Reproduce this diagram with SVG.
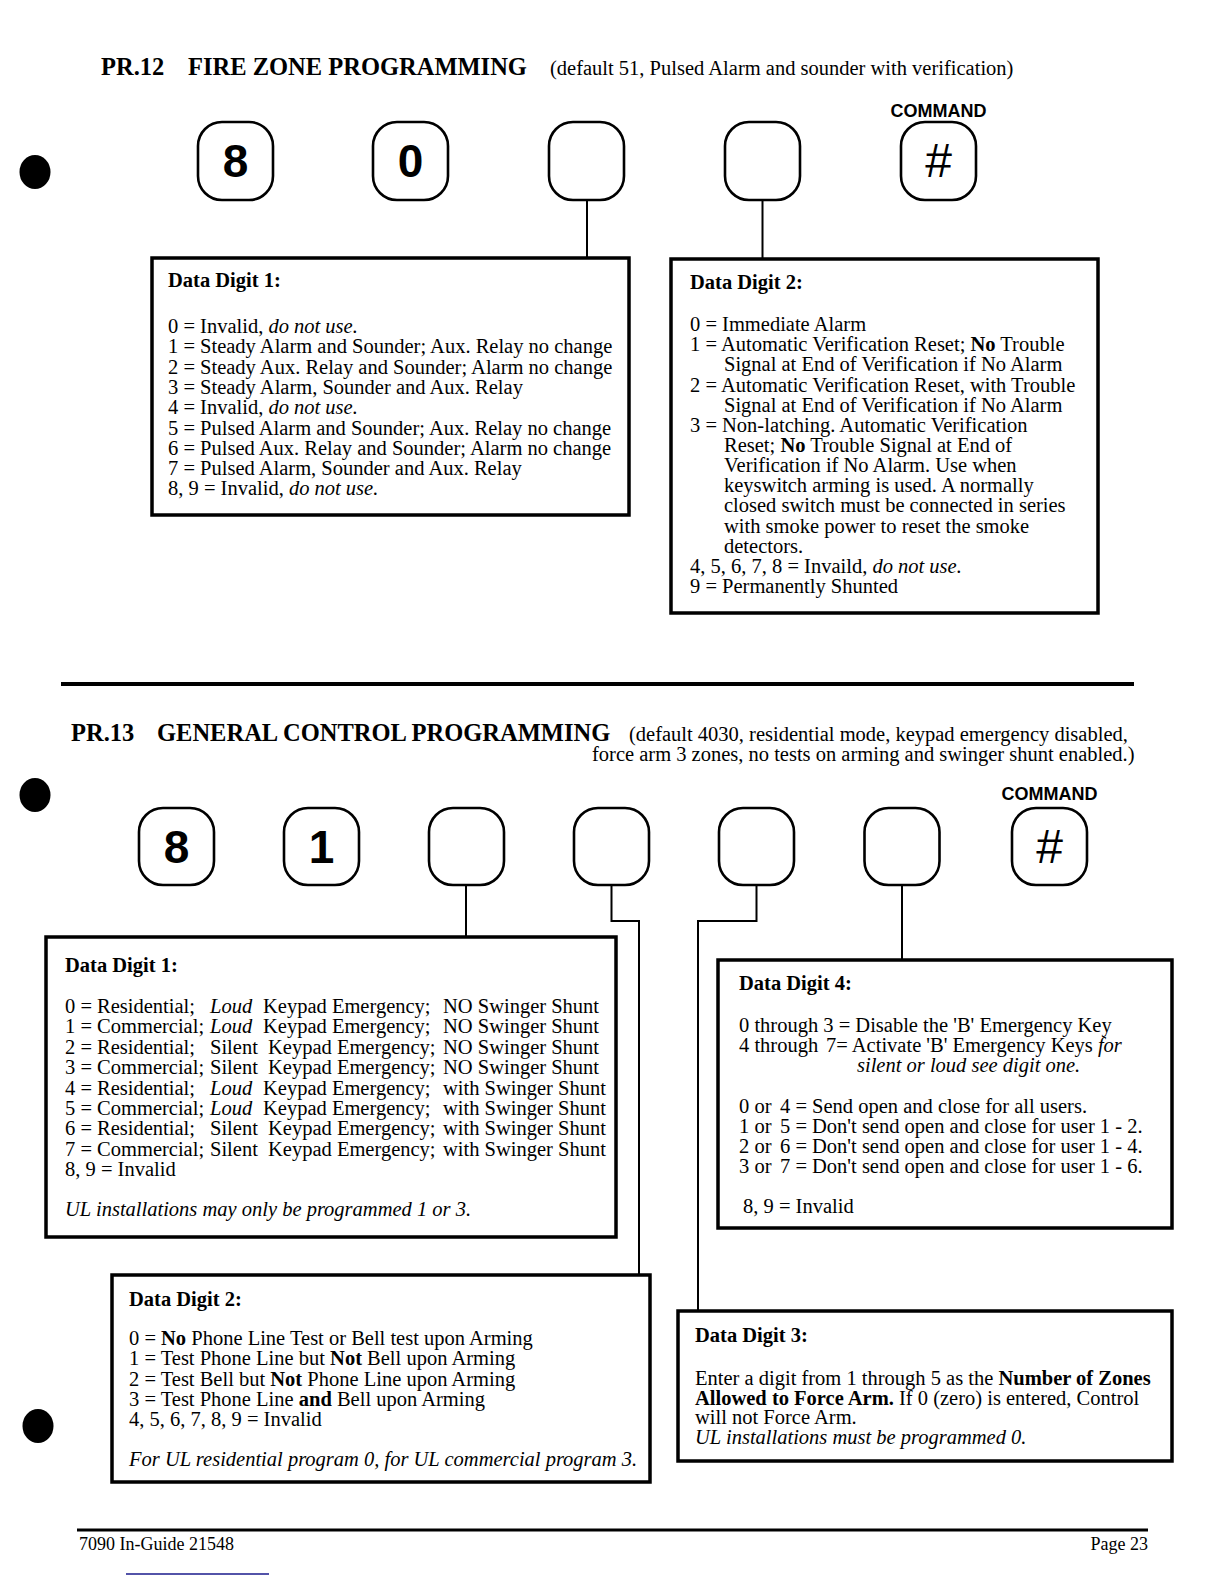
<svg xmlns="http://www.w3.org/2000/svg" width="1224" height="1584" viewBox="0 0 1224 1584">
<style>
.t{font-family:"Liberation Serif","Times New Roman",serif;font-size:20.5px;fill:#000}
.b{font-weight:bold}
.i{font-style:italic}
.title{font-family:"Liberation Serif","Times New Roman",serif;font-size:24.5px;font-weight:bold;fill:#000}
.key{fill:#fff;stroke:#000;stroke-width:2.6}
.box{fill:#fff;stroke:#000;stroke-width:3.5}
.conn{fill:none;stroke:#000;stroke-width:2}
.kt{font-family:"Liberation Sans",Arial,sans-serif;font-weight:bold;font-size:46px;text-anchor:middle;fill:#000}
.hash{font-family:"Liberation Sans",Arial,sans-serif;font-size:48px;text-anchor:middle;fill:#000}
.cmd{font-family:"Liberation Sans",Arial,sans-serif;font-weight:bold;font-size:18px;text-anchor:middle;fill:#000}
.rule{stroke:#000;fill:none}
.ft{font-family:"Liberation Serif","Times New Roman",serif;font-size:18px;fill:#000}
</style>
<rect x="0" y="0" width="1224" height="1584" fill="#fff"/>

<!-- bullets -->
<g id="bullets">
<ellipse cx="35" cy="172" rx="15.5" ry="17" fill="#000"/>
<ellipse cx="35" cy="795" rx="15.5" ry="17" fill="#000"/>
<ellipse cx="38" cy="1426" rx="15.5" ry="17" fill="#000"/>
</g>

<!-- PR.12 header -->
<g id="pr12-title">
<text class="title" x="101" y="75">PR.12</text>
<text class="title" x="188" y="75">FIRE ZONE PROGRAMMING</text>
<text class="t" x="550" y="75">(default 51, Pulsed Alarm and sounder with verification)</text>
<text class="cmd" x="938.5" y="117">COMMAND</text>
</g>

<!-- PR.12 keys -->
<g id="pr12-key1"><rect class="key" x="198" y="122" width="75" height="78" rx="24"/><text class="kt" x="235.5" y="177">8</text></g>
<g id="pr12-key2"><rect class="key" x="373" y="122" width="75" height="78" rx="24"/><text class="kt" x="410.5" y="177">0</text></g>
<g id="pr12-key3"><rect class="key" x="549" y="122" width="75" height="78" rx="24"/></g>
<g id="pr12-key4"><rect class="key" x="725" y="122" width="75" height="78" rx="24"/></g>
<g id="pr12-key5"><rect class="key" x="901" y="122" width="75" height="78" rx="24"/><text class="hash" x="938.5" y="177">#</text></g>

<!-- connectors -->
<g id="connectors">
<path class="conn" d="M587 200 V258"/>
<path class="conn" d="M762.5 200 V259"/>
<path class="conn" d="M466 885 V937"/>
<path class="conn" d="M611.5 885 V921 H639 V1275"/>
<path class="conn" d="M756.5 885 V921 H698 V1311"/>
<path class="conn" d="M902 885 V960"/>
</g>

<!-- PR.12 Data Digit 1 -->
<g id="pr12-dd1">
<rect class="box" x="152" y="258" width="477" height="257"/>
<text class="t b" x="168" y="287">Data Digit 1:</text>
<text class="t" x="168" y="333">0 = Invalid, <tspan class="i">do not use.</tspan></text>
<text class="t" x="168" y="353.3">1 = Steady Alarm and Sounder; Aux. Relay no change</text>
<text class="t" x="168" y="373.6">2 = Steady Aux. Relay and Sounder; Alarm no change</text>
<text class="t" x="168" y="393.9">3 = Steady Alarm, Sounder and Aux. Relay</text>
<text class="t" x="168" y="414.2">4 = Invalid, <tspan class="i">do not use.</tspan></text>
<text class="t" x="168" y="434.5">5 = Pulsed Alarm and Sounder; Aux. Relay no change</text>
<text class="t" x="168" y="454.8">6 = Pulsed Aux. Relay and Sounder; Alarm no change</text>
<text class="t" x="168" y="475.1">7 = Pulsed Alarm, Sounder and Aux. Relay</text>
<text class="t" x="168" y="495.4">8, 9 = Invalid, <tspan class="i">do not use.</tspan></text>
</g>

<!-- PR.12 Data Digit 2 -->
<g id="pr12-dd2">
<rect class="box" x="671" y="259" width="427" height="354"/>
<text class="t b" x="690" y="289">Data Digit 2:</text>
<text class="t" x="690" y="331">0 = Immediate Alarm</text>
<text class="t" x="690" y="351.2">1 = Automatic Verification Reset; <tspan class="b">No</tspan> Trouble</text>
<text class="t" x="724" y="371.3">Signal at End of Verification if No Alarm</text>
<text class="t" x="690" y="391.5">2 = Automatic Verification Reset, with Trouble</text>
<text class="t" x="724" y="411.6">Signal at End of Verification if No Alarm</text>
<text class="t" x="690" y="431.8">3 = Non-latching. Automatic Verification</text>
<text class="t" x="724" y="451.9">Reset; <tspan class="b">No</tspan> Trouble Signal at End of</text>
<text class="t" x="724" y="472.1">Verification if No Alarm. Use when</text>
<text class="t" x="724" y="492.2">keyswitch arming is used. A normally</text>
<text class="t" x="724" y="512.4">closed switch must be connected in series</text>
<text class="t" x="724" y="532.5">with smoke power to reset the smoke</text>
<text class="t" x="724" y="552.7">detectors.</text>
<text class="t" x="690" y="572.8">4, 5, 6, 7, 8 = Invaild, <tspan class="i">do not use.</tspan></text>
<text class="t" x="690" y="593">9 = Permanently Shunted</text>
</g>

<!-- separator -->
<line class="rule" x1="61" y1="684" x2="1134" y2="684" stroke-width="4"/>

<!-- PR.13 header -->
<g id="pr13-title">
<text class="title" x="71" y="741">PR.13</text>
<text class="title" x="157" y="741">GENERAL CONTROL PROGRAMMING</text>
<text class="t" x="629" y="741">(default 4030, residential mode, keypad emergency disabled,</text>
<text class="t" x="592" y="761">force arm 3 zones, no tests on arming and swinger shunt enabled.)</text>
<text class="cmd" x="1049.5" y="800">COMMAND</text>
</g>

<!-- PR.13 keys -->
<g id="pr13-key1"><rect class="key" x="139" y="808" width="75" height="77" rx="24"/><text class="kt" x="176.5" y="863">8</text></g>
<g id="pr13-key2"><rect class="key" x="284" y="808" width="75" height="77" rx="24"/><text class="kt" x="321.5" y="863">1</text></g>
<g id="pr13-key3"><rect class="key" x="429" y="808" width="75" height="77" rx="24"/></g>
<g id="pr13-key4"><rect class="key" x="574" y="808" width="75" height="77" rx="24"/></g>
<g id="pr13-key5"><rect class="key" x="719" y="808" width="75" height="77" rx="24"/></g>
<g id="pr13-key6"><rect class="key" x="864.5" y="808" width="75" height="77" rx="24"/></g>
<g id="pr13-key7"><rect class="key" x="1012" y="808" width="75" height="77" rx="24"/><text class="hash" x="1049.5" y="863">#</text></g>

<!-- PR.13 Data Digit 1 -->
<g id="pr13-dd1">
<rect class="box" x="46" y="937" width="570" height="300"/>
<text class="t b" x="65" y="972">Data Digit 1:</text>
<text class="t" y="1013"><tspan x="65">0 = Residential;</tspan><tspan x="210" class="i">Loud</tspan><tspan x="263">Keypad Emergency;</tspan><tspan x="443">NO Swinger Shunt</tspan></text>
<text class="t" y="1033.4"><tspan x="65">1 = Commercial;</tspan><tspan x="210" class="i">Loud</tspan><tspan x="263">Keypad Emergency;</tspan><tspan x="443">NO Swinger Shunt</tspan></text>
<text class="t" y="1053.8"><tspan x="65">2 = Residential;</tspan><tspan x="210">Silent</tspan><tspan x="268">Keypad Emergency;</tspan><tspan x="443">NO Swinger Shunt</tspan></text>
<text class="t" y="1074.2"><tspan x="65">3 = Commercial;</tspan><tspan x="210">Silent</tspan><tspan x="268">Keypad Emergency;</tspan><tspan x="443">NO Swinger Shunt</tspan></text>
<text class="t" y="1094.6"><tspan x="65">4 = Residential;</tspan><tspan x="210" class="i">Loud</tspan><tspan x="263">Keypad Emergency;</tspan><tspan x="443">with Swinger Shunt</tspan></text>
<text class="t" y="1115"><tspan x="65">5 = Commercial;</tspan><tspan x="210" class="i">Loud</tspan><tspan x="263">Keypad Emergency;</tspan><tspan x="443">with Swinger Shunt</tspan></text>
<text class="t" y="1135.4"><tspan x="65">6 = Residential;</tspan><tspan x="210">Silent</tspan><tspan x="268">Keypad Emergency;</tspan><tspan x="443">with Swinger Shunt</tspan></text>
<text class="t" y="1155.8"><tspan x="65">7 = Commercial;</tspan><tspan x="210">Silent</tspan><tspan x="268">Keypad Emergency;</tspan><tspan x="443">with Swinger Shunt</tspan></text>
<text class="t" x="65" y="1176.2">8, 9 = Invalid</text>
<text class="t i" x="65" y="1216">UL installations may only be programmed 1 or 3.</text>
</g>

<!-- PR.13 Data Digit 4 -->
<g id="pr13-dd4">
<rect class="box" x="718" y="960" width="454" height="268"/>
<text class="t b" x="739" y="990">Data Digit 4:</text>
<text class="t" x="739" y="1032">0 through 3 = Disable the 'B' Emergency Key</text>
<text class="t" y="1052"><tspan x="739">4 through</tspan><tspan x="826">7= Activate 'B' Emergency Keys </tspan><tspan class="i">for</tspan></text>
<text class="t i" x="857" y="1072">silent or loud see digit one.</text>
<text class="t" y="1113"><tspan x="739">0 or</tspan><tspan x="780">4 = Send open and close for all users.</tspan></text>
<text class="t" y="1133"><tspan x="739">1 or</tspan><tspan x="780">5 = Don't send open and close for user 1 - 2.</tspan></text>
<text class="t" y="1153"><tspan x="739">2 or</tspan><tspan x="780">6 = Don't send open and close for user 1 - 4.</tspan></text>
<text class="t" y="1173"><tspan x="739">3 or</tspan><tspan x="780">7 = Don't send open and close for user 1 - 6.</tspan></text>
<text class="t" x="743" y="1213">8, 9 = Invalid</text>
</g>

<!-- PR.13 Data Digit 2 -->
<g id="pr13-dd2">
<rect class="box" x="112" y="1275" width="538" height="207"/>
<text class="t b" x="129" y="1306">Data Digit 2:</text>
<text class="t" x="129" y="1345">0 = <tspan class="b">No</tspan> Phone Line Test or Bell test upon Arming</text>
<text class="t" x="129" y="1365.3">1 = Test Phone Line but <tspan class="b">Not</tspan> Bell upon Arming</text>
<text class="t" x="129" y="1385.5">2 = Test Bell but <tspan class="b">Not</tspan> Phone Line upon Arming</text>
<text class="t" x="129" y="1405.8">3 = Test Phone Line <tspan class="b">and</tspan> Bell upon Arming</text>
<text class="t" x="129" y="1426">4, 5, 6, 7, 8, 9 = Invalid</text>
<text class="t i" x="129" y="1466">For UL residential program 0, for UL commercial program 3.</text>
</g>

<!-- PR.13 Data Digit 3 -->
<g id="pr13-dd3">
<rect class="box" x="678" y="1311" width="494" height="150"/>
<text class="t b" x="695" y="1342">Data Digit 3:</text>
<text class="t" x="695" y="1385">Enter a digit from 1 through 5 as the <tspan class="b">Number of Zones</tspan></text>
<text class="t" x="695" y="1404.5"><tspan class="b">Allowed to Force Arm.</tspan> If 0 (zero) is entered, Control</text>
<text class="t" x="695" y="1424">will not Force Arm.</text>
<text class="t i" x="695" y="1443.5">UL installations must be programmed 0.</text>
</g>

<!-- footer -->
<g id="footer">
<line class="rule" x1="77" y1="1530" x2="1148" y2="1530" stroke-width="3"/>
<text class="ft" x="79" y="1550">7090 In-Guide 21548</text>
<text class="ft" x="1148" y="1550" text-anchor="end">Page 23</text>
<line x1="126" y1="1574" x2="269" y2="1574" stroke="#1a1a8c" stroke-width="1.5"/>
</g>
</svg>
